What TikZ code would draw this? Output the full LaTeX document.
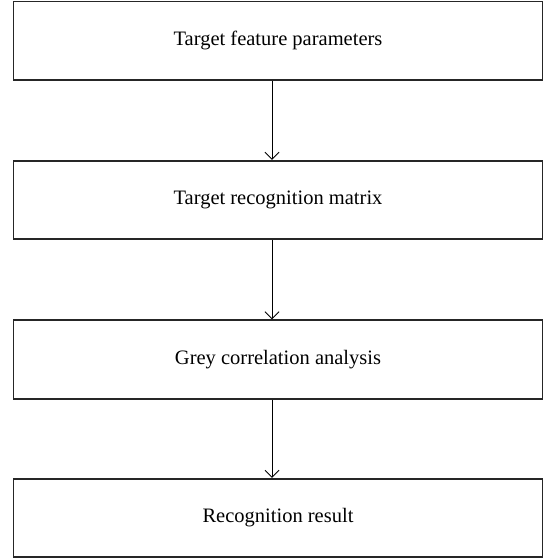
\documentclass[tikz,border=0pt]{standalone}
\usepackage{fontspec}
\setmainfont{Liberation Serif}
\usetikzlibrary{arrows.meta}
\begin{document}
\begin{tikzpicture}[x=1pt,y=-1pt,
  stepbox/.style={draw=black!85,line width=1.6pt,rectangle,minimum width=529pt,minimum height=78.5pt,inner sep=0pt,font=\fontsize{20.5}{24}\selectfont},
  arr/.style={draw=black,line width=1pt,-{Straight Barb[length=7pt,width=14pt,line width=1pt]}}]
\useasboundingbox (0,0) rectangle (545,559);
\node[stepbox] (b1) at (278,40.75) {Target feature parameters};
\node[stepbox] (b2) at (278,200) {Target recognition matrix};
\node[stepbox] (b3) at (278,359.5) {Grey correlation analysis};
\node[stepbox] (b4) at (278,518) {Recognition result};
\draw[arr] ([xshift=-6pt]b1.south) -- ([xshift=-6pt]b2.north);
\draw[arr] ([xshift=-6pt]b2.south) -- ([xshift=-6pt]b3.north);
\draw[arr] ([xshift=-6pt]b3.south) -- ([xshift=-6pt]b4.north);
\end{tikzpicture}
\end{document}
